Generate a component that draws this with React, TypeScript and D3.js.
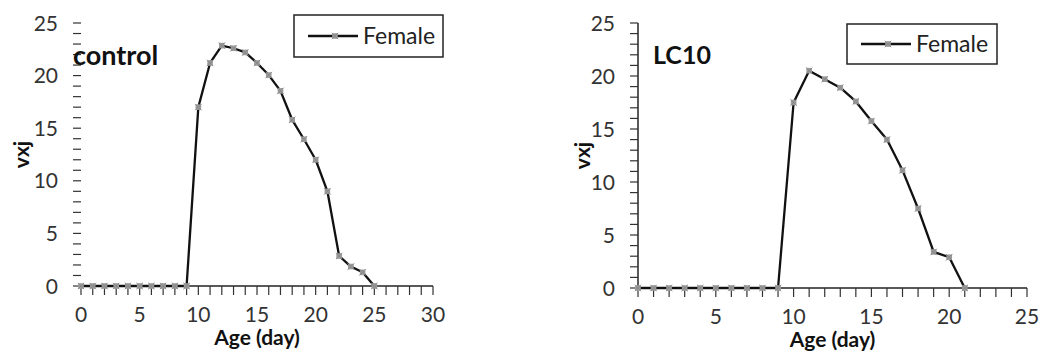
import * as d3 from 'd3';

// ages (day) and female vxj values
const controlAge = d3.range(0, 26);
const controlVxj = [0, 0, 0, 0, 0, 0, 0, 0, 0, 0, 17.0, 21.2, 22.85, 22.6, 22.2, 21.2, 20.05, 18.55, 15.8, 13.95, 12.0, 9.0, 2.85, 1.85, 1.3, 0];
const lc10Age = d3.range(0, 22);
const lc10Vxj = [0, 0, 0, 0, 0, 0, 0, 0, 0, 0, 17.5, 20.5, 19.7, 18.9, 17.6, 15.75, 14.0, 11.1, 7.5, 3.4, 2.9, 0];
const yTicks = [0, 5, 10, 15, 20, 25];
const controlXTicks = [0, 5, 10, 15, 20, 25, 30];
const lc10XTicks = [0, 5, 10, 15, 20, 25];
const seriesName = 'Female';

const FONT = 'Lato, "Open Sans", sans-serif';

interface PanelProps {
  ages: number[];
  values: number[];
  xMax: number;
  xTicks: number[];
  xRange: [number, number];
  yRange: [number, number];
  title: string;
  titlePos: [number, number];
  titleSize: number;
  legend: { x: number; y: number; w: number; h: number };
  yLabelX: number;
  showYLine: boolean;
}

function Marker({ x, y }: { x: number; y: number }) {
  return (
    <g transform={`translate(${x},${y})`}>
      <rect x={-2.8} y={-2.8} width={5.6} height={5.6} fill="#9a9a9a" />
      <path d="M-3.2,-3.2L3.2,3.2M-3.2,3.2L3.2,-3.2" stroke="#8a8a8a" strokeWidth={1} />
    </g>
  );
}

function Panel(p: PanelProps) {
  const x = d3.scaleLinear().domain([0, p.xMax]).range(p.xRange);
  const y = d3.scaleLinear().domain([0, 25]).range(p.yRange);
  const line = d3
    .line<number>()
    .x((_, i) => x(p.ages[i]))
    .y((d) => y(d));
  const x0 = p.xRange[0];
  const y0 = p.yRange[0];
  const minorX = d3.range(0, p.xMax + 1);
  const minorY = d3.range(0, 26);
  const midX = (p.xRange[0] + p.xRange[1]) / 2;
  const midY = (p.yRange[0] + p.yRange[1]) / 2;
  const lg = p.legend;

  return (
    <g fontFamily={FONT}>
      {/* y axis */}
      {p.showYLine && <line x1={x0} x2={x0} y1={y(0)} y2={y(25)} stroke="#222" strokeWidth={1.5} />}
      {minorY.map((v) => (
        <line key={'my' + v} x1={x0 - 8} x2={x0} y1={y(v)} y2={y(v)} stroke="#333" strokeWidth={1.2} />
      ))}
      {yTicks.map((v) => (
        <text key={'ty' + v} x={x0 - 23} y={y(v)} dy="0.36em" textAnchor="end" fontSize={21} fill="#333">
          {v}
        </text>
      ))}
      {/* x axis */}
      <line x1={x0} x2={p.xRange[1]} y1={y0} y2={y0} stroke="#222" strokeWidth={1.5} />
      {minorX.map((v) => (
        <line key={'mx' + v} x1={x(v)} x2={x(v)} y1={y0} y2={y0 + 9} stroke="#333" strokeWidth={1.2} />
      ))}
      {p.xTicks.map((v) => (
        <text key={'tx' + v} x={x(v)} y={y0 + 36} textAnchor="middle" fontSize={21} fill="#333">
          {v}
        </text>
      ))}
      <text x={midX} y={y0 + 59} textAnchor="middle" fontSize={21} fontWeight="bold" fill="#111">
        Age (day)
      </text>
      <text
        transform={`translate(${p.yLabelX},${midY}) rotate(-90)`}
        textAnchor="middle"
        dy="0.35em"
        fontSize={21}
        fontWeight="bold"
        fill="#111"
      >
        vxj
      </text>
      {/* series */}
      <path d={line(p.values) as string} fill="none" stroke="#111" strokeWidth={2.3} strokeLinejoin="round" />
      {p.values.map((v, i) => (
        <Marker key={'pt' + i} x={x(p.ages[i])} y={y(v)} />
      ))}
      <text x={p.titlePos[0]} y={p.titlePos[1]} fontSize={p.titleSize} fontWeight="bold" fill="#111">
        {p.title}
      </text>
      {/* legend */}
      <rect x={lg.x} y={lg.y} width={lg.w} height={lg.h} fill="white" stroke="#222" strokeWidth={1.5} />
      <line x1={lg.x + 14} x2={lg.x + 64} y1={lg.y + lg.h / 2} y2={lg.y + lg.h / 2} stroke="#111" strokeWidth={2.3} />
      <Marker x={lg.x + 41} y={lg.y + lg.h / 2} />
      <text x={lg.x + 69} y={lg.y + lg.h / 2} dy="0.36em" fontSize={23} fill="#222">
        {seriesName}
      </text>
    </g>
  );
}

export default function App() {
  return (
    <svg
      width={1041}
      height={352}
      viewBox="0 0 1041 352"
      style={{ position: 'absolute', left: 0, top: 0, background: 'white' }}
    >
      <rect width={1041} height={352} fill="white" />
      <Panel
        ages={controlAge}
        values={controlVxj}
        xMax={30}
        xTicks={controlXTicks}
        xRange={[81, 433]}
        yRange={[286, 23]}
        title="control"
        titlePos={[73, 65]}
        titleSize={27}
        legend={{ x: 294, y: 15, w: 149, h: 42 }}
        yLabelX={22}
        showYLine={false}
      />
      <Panel
        ages={lc10Age}
        values={lc10Vxj}
        xMax={25}
        xTicks={lc10XTicks}
        xRange={[638, 1027]}
        yRange={[288, 23]}
        title="LC10"
        titlePos={[653, 64]}
        titleSize={25}
        legend={{ x: 847, y: 24, w: 150, h: 40 }}
        yLabelX={583}
        showYLine={true}
      />
    </svg>
  );
}
